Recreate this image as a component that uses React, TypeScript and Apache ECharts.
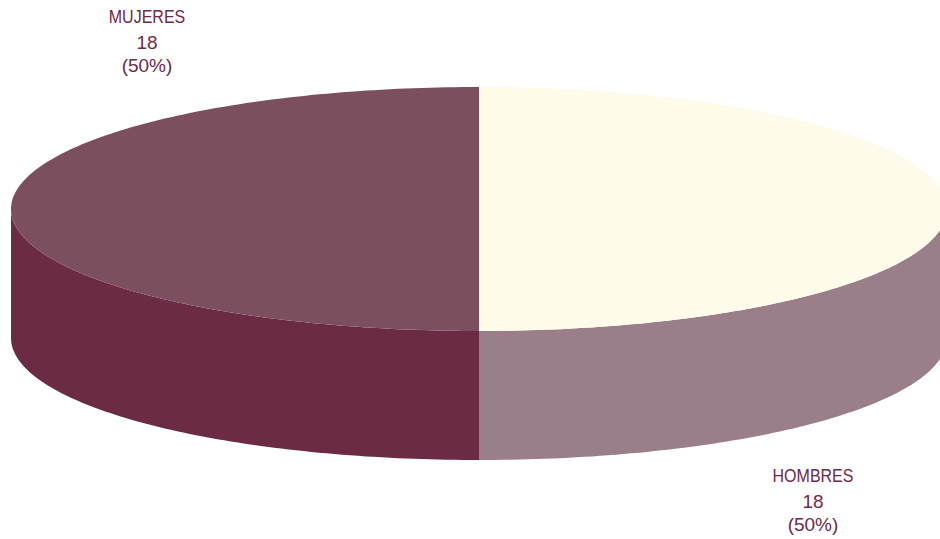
import React, { useEffect, useRef } from "react";
import * as echarts from "echarts";

const categories = ["HOMBRES", "MUJERES"];
const values = [18, 18];
const percentLabels = ["(50%)", "(50%)"];

const topColors = ["#fefbea", "#7b4f5d"];
const sideColors = ["#9a7f8a", "#6b2b45"];
const labelAnchors = [[813, 476.5], [147, 17]];
const TEXT_COLOR = "#6f2a48";
const FONT_FAMILY = '"Liberation Sans", Arial, sans-serif';
const CX = 479;
const CY = 209;
const RX = 468;
const RY = 122;
const DEPTH = 129;
const STEP = Math.PI / 180;

const rim = (a: number, b: number, dy: number) => {
  const pts: number[][] = [];
  const n = Math.max(1, Math.ceil(Math.abs(b - a) / STEP));
  for (let i = 0; i <= n; i++) {
    const t = a + ((b - a) * i) / n;
    pts.push([CX + RX * Math.sin(t), CY - RY * Math.cos(t) + dy]);
  }
  return pts;
};

const textEl = (text: string, x: number, y: number, size: number, scaleX: number) => ({
  type: "text",
  x,
  y,
  scaleX,
  style: {
    text,
    font: `${size}px ${FONT_FAMILY}`,
    fill: TEXT_COLOR,
    align: "center",
    verticalAlign: "middle",
  },
});

export default function App() {
  const ref = useRef<HTMLDivElement>(null);
  useEffect(() => {
    document.body.style.margin = "0";
    document.body.style.background = "#ffffff";
    const chart = echarts.init(ref.current!, null, { renderer: "svg" });
    const total = values.reduce((s, v) => s + v, 0);
    chart.setOption({
      animation: false,
      backgroundColor: "#ffffff",
      series: [
        {
          type: "custom",
          coordinateSystem: "none",
          silent: true,
          data: categories.map((name, i) => ({ name, value: values[i] })),
          renderItem: (params: any) => {
            const i = params.dataIndex;
            const before = values.slice(0, i).reduce((s, v) => s + v, 0);
            const a0 = (before / total) * 2 * Math.PI;
            const a1 = ((before + values[i]) / total) * 2 * Math.PI;
            const children: any[] = [];
            const s0 = Math.max(a0, Math.PI / 2);
            const s1 = Math.min(a1, (3 * Math.PI) / 2);
            if (s1 > s0) {
              children.push({
                type: "polygon",
                shape: { points: [...rim(s0, s1, 0), ...rim(s1, s0, DEPTH)] },
                style: { fill: sideColors[i] },
              });
            }
            children.push({
              type: "polygon",
              shape: { points: [[CX, CY], ...rim(a0, a1, 0)] },
              style: { fill: topColors[i] },
            });
            const [lx, ly] = labelAnchors[i];
            children.push(textEl(categories[i], lx, ly, 18, 0.89));
            children.push(textEl(String(values[i]), lx, ly + 25, 19, 1));
            children.push(textEl(percentLabels[i], lx, ly + 48, 19, 1));
            return { type: "group", children };
          },
        },
      ],
    });
    return () => chart.dispose();
  }, []);
  return <div ref={ref} style={{ width: 940, height: 539 }} />;
}
